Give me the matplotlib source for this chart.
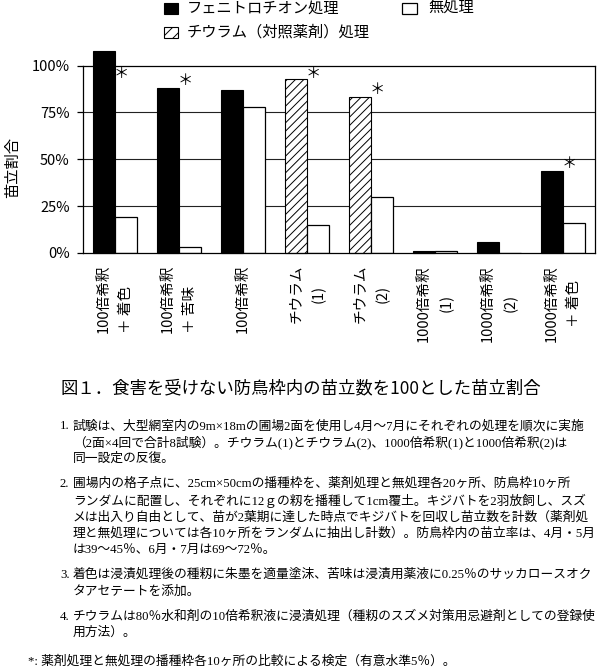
import matplotlib
matplotlib.use("Agg")
import matplotlib.pyplot as plt
import numpy as np
from matplotlib.patches import Rectangle

plt.rcParams["font.family"] = ["Noto Sans CJK JP", "DejaVu Sans"]
plt.rcParams["hatch.linewidth"] = 0.7

# data
label_line1 = ["100倍希釈", "100倍希釈", "100倍希釈", "チウラム", "チウラム",
               "1000倍希釈", "1000倍希釈", "1000倍希釈"]
label_line2 = ["＋ 着色", "＋ 苦味", "", "(1)", "(2)", "(1)", "(2)", "＋ 着色"]
treatment_kind = ["fen", "fen", "fen", "thi", "thi", "fen", "fen", "fen"]
treated = [108, 88, 87, 93, 83, 1, 6, 44]
untreated = [19, 3, 78, 15, 30, 1, 0, 16]
significant = [True, True, False, True, True, False, False, True]
yticks = [0, 25, 50, 75, 100]

legend_fen = "フェニトロチオン処理"
legend_none = "無処理"
legend_thi = "チウラム（対照薬剤）処理"
ylabel = "苗立割合"
caption = "図１．食害を受けない防鳥枠内の苗立数を100とした苗立割合"

notes = [
    ("1.", ["試験は、大型網室内の9m×18mの圃場2面を使用し4月～7月にそれぞれの処理を順次に実施",
            "（2面×4回で合計8試験）。チウラム(1)とチウラム(2)、1000倍希釈(1)と1000倍希釈(2)は",
            "同一設定の反復。"]),
    ("2.", ["圃場内の格子点に、25cm×50cmの播種枠を、薬剤処理と無処理各20ヶ所、防鳥枠10ヶ所",
            "ランダムに配置し、それぞれに12ｇの籾を播種して1cm覆土。キジバトを2羽放飼し、スズ",
            "メは出入り自由として、苗が2葉期に達した時点でキジバトを回収し苗立数を計数（薬剤処",
            "理と無処理については各10ヶ所をランダムに抽出し計数）。防鳥枠内の苗立率は、4月・5月",
            "は39～45％、6月・7月は69～72％。"]),
    ("3.", ["着色は浸漬処理後の種籾に朱墨を適量塗沫、苦味は浸漬用薬液に0.25％のサッカロースオク",
            "タアセテートを添加。"]),
    ("4.", ["チウラムは80％水和剤の10倍希釈液に浸漬処理（種籾のスズメ対策用忌避剤としての登録使",
            "用方法）。"]),
]
footnote = "*: 薬剤処理と無処理の播種枠各10ヶ所の比較による検定（有意水準5％）。"

W, H = 600, 672
note_family = ["Liberation Serif", "Noto Sans CJK JP"]


def fx(px):
    return px / W


def fy(py):
    return 1 - py / H


fig = plt.figure(figsize=(W / 100, H / 100), dpi=100)

# legend drawn by hand to match the two-row layout
fig.add_artist(Rectangle((fx(164), fy(14)), 14 / W, 11 / H, transform=fig.transFigure,
                         facecolor="black", edgecolor="black", lw=0.8))
fig.text(fx(187), fy(8), legend_fen, va="center", fontsize=11)
fig.add_artist(Rectangle((fx(402), fy(14)), 15 / W, 11 / H, transform=fig.transFigure,
                         facecolor="white", edgecolor="black", lw=0.9))
fig.text(fx(428), fy(8), legend_none, va="center", fontsize=11)
fig.add_artist(Rectangle((fx(164), fy(38)), 14 / W, 11 / H, transform=fig.transFigure,
                         facecolor="white", edgecolor="black", lw=0.8, hatch="///"))
fig.text(fx(187), fy(32), legend_thi, va="center", fontsize=11)

ax = fig.add_axes([fx(83), fy(253), 512 / W, 187.5 / H])
x = np.arange(len(label_line1))
w = 0.34

for y in yticks[1:-1]:
    ax.axhline(y, color="#222222", lw=0.8, zorder=0)

for i, (kind, v) in enumerate(zip(treatment_kind, treated)):
    if kind == "fen":
        ax.bar(x[i] - w / 2, v, w, color="black", edgecolor="black", lw=0.8,
               clip_on=False, zorder=2)
    else:
        ax.bar(x[i] - w / 2, v, w, color="white", edgecolor="black", lw=0.8,
               hatch="////", clip_on=False, zorder=2)
ax.bar(x + w / 2, untreated, w, color="white", edgecolor="black", lw=0.9, zorder=2)

for i, (v, sig) in enumerate(zip(treated, significant)):
    if sig:
        ax.text(x[i] + 0.09, min(v, 92) + 4, "＊", ha="center", va="center",
                fontsize=11, clip_on=False)

ax.set_xlim(-0.5, len(x) - 0.5)
ax.set_ylim(0, 100)
ax.set_yticks(yticks)
ax.set_yticklabels([f"{v}%" for v in yticks])
for s in ax.spines.values():
    s.set_linewidth(0.9)
    s.set_color("black")
ax.tick_params(axis="y", length=4.5, width=0.9, pad=5, labelsize=10.5)
ax.tick_params(axis="x", length=0, pad=8.5, labelsize=10.5)

labels = [a + ("\n" + b if b else "") for a, b in zip(label_line1, label_line2)]
ax.set_xticks(x)
ax.set_xticklabels(labels, rotation=90, ha="center", va="top", linespacing=1.75)
for lab in ax.get_xticklabels():
    txt = lab.get_text()
    if txt.startswith("100倍") and "＋" in txt:
        lab.set_multialignment("left")
    else:
        lab.set_multialignment("center")

fig.text(fx(12.5), fy(167), ylabel, rotation=90, ha="center", va="center", fontsize=11)

fig.text(fx(61), fy(388), caption, va="center", fontsize=12.5)

# notes block below the caption
body = []
y = 426
for num, lines in notes:
    body.append(fig.text(fx(60), fy(y), num, va="center", fontsize=9.6, family=note_family))
    for line in lines:
        body.append(fig.text(fx(73), fy(y), line, va="center", fontsize=9.6,
                             family=note_family))
        y += 16.5
    y += 8.5
body.append(fig.text(fx(28), fy(y + 3), footnote, va="center", fontsize=9.6,
                     family=note_family))

# shrink the notes just enough that the longest line stays on the canvas
fig.canvas.draw()
renderer = fig.canvas.get_renderer()
right = max(t.get_window_extent(renderer).x1 for t in body)
if right > W - 2:
    k = (W - 2 - 73) / (right - 73)
    for t in body:
        t.set_fontsize(9.6 * k)

fig.savefig("out.png", dpi=100)
